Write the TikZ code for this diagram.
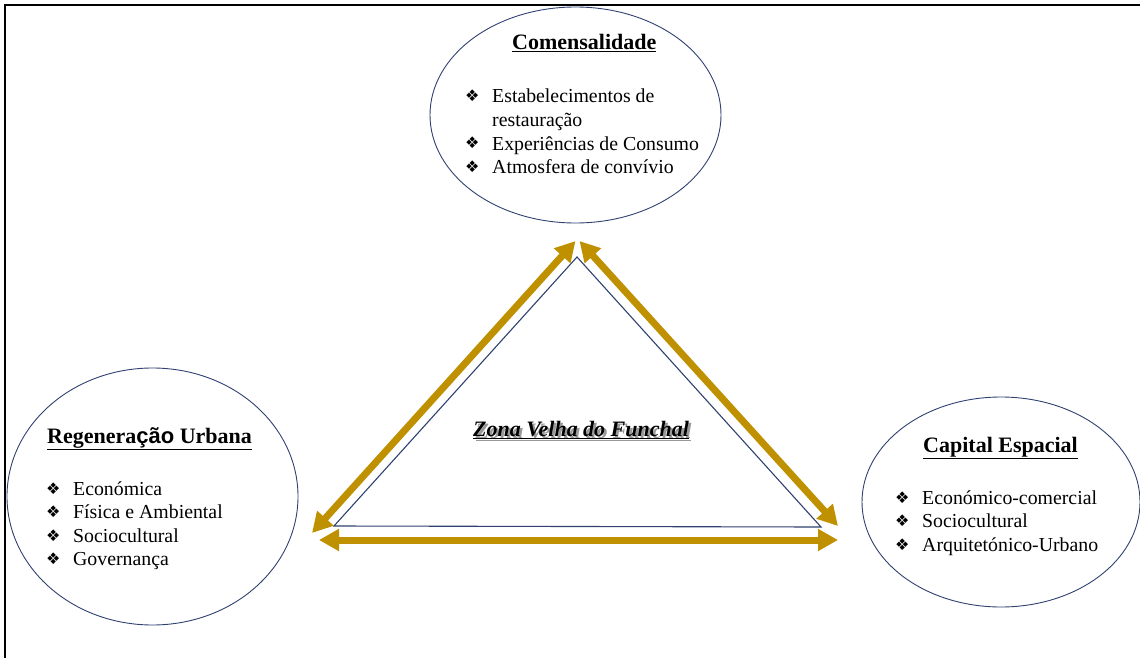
\documentclass[tikz,border=0pt]{standalone}
\usepackage{fontspec}
\setmainfont{LiberationSerif}[Extension=.ttf, UprightFont=*-Regular, BoldFont=*-Bold, ItalicFont=*-Italic, BoldItalicFont=*-BoldItalic]
\newfontfamily\symfont{DejaVu Sans}
\newfontfamily\arialfont{LiberationSans}[Extension=.ttf, UprightFont=*-Regular, BoldFont=*-Bold]
\usetikzlibrary{arrows.meta,shapes.geometric}
\definecolor{gold}{HTML}{BF9000}
\definecolor{navy}{HTML}{2F4170}
\newcommand{\bul}{{\symfont\fontsize{16}{16}\selectfont ❖}}
\newcommand{\shadowtext}[1]{\rlap{\color{black!40}\raisebox{-2.5pt}{\hspace{2.5pt}#1}}#1}
\begin{document}
\begin{tikzpicture}[x=1pt,y=-1pt,
  ell/.style={draw=navy, line width=0.9pt, ellipse, inner sep=0pt},
  ttl/.style={inner sep=0pt, anchor=base west, font=\fontsize{22}{26}\selectfont\bfseries},
  itm/.style={inner sep=0pt, anchor=base west, font=\fontsize{19.8}{24}\selectfont},
  bl/.style={inner sep=0pt, anchor=base west},
  link/.style={draw=gold, line width=7pt, {Triangle[width=21pt,length=20pt]}-{Triangle[width=21pt,length=20pt]}},
  tri/.style={draw=navy, line width=1.1pt}]
\useasboundingbox (0,0) rectangle (1140,658);
\draw[line width=2pt] (5,658) -- (5,5) -- (1140,5);

% ellipses
\node[ell, minimum width=291pt, minimum height=216pt] (top) at (575.5,115) {};
\node[ell, minimum width=291pt, minimum height=257pt] (left) at (152.5,496.5) {};
\node[ell, minimum width=278pt, minimum height=210pt] (right) at (1001,502) {};

% triangle
\coordinate (ta) at (577,257);
\coordinate (tl) at (334,526);
\coordinate (tr) at (821,527);
\draw[tri] (ta) -- (tl) -- (tr) -- cycle;

% gold double arrows
\coordinate (l1) at (312,533);
\coordinate (l2) at (575.5,241);
\coordinate (r1) at (579.5,241);
\coordinate (r2) at (838,526);
\coordinate (b1) at (319,540);
\coordinate (b2) at (838,540);
\draw[link] (l1) -- (l2);
\draw[link] (r1) -- (r2);
\draw[link] (b1) -- (b2);

% top texts
\node[ttl] (ttop) at (512,50) {\underline{Comensalidade}};
\node[bl] (bt1) at (465,102) {\bul};
\node[itm] (it1) at (492,103) {Estabelecimentos de};
\node[itm] (it1b) at (492,127) {restauração};
\node[bl] (bt2) at (465,149) {\bul};
\node[itm] (it2) at (492,150) {Experiências de Consumo};
\node[bl] (bt3) at (465,172) {\bul};
\node[itm] (it3) at (492,173) {Atmosfera de convívio};

% left texts
\node[ttl] (tleft) at (47,443) {\underline{Regenera{\arialfont ção} Urbana}};
\node[bl] (bl1) at (46,494) {\bul};
\node[itm] (il1) at (73,495) {Económica};
\node[bl] (bl2) at (46,517) {\bul};
\node[itm] (il2) at (73,518) {Física e Ambiental};
\node[bl] (bl3) at (46,541) {\bul};
\node[itm] (il3) at (73,542) {Sociocultural};
\node[bl] (bl4) at (46,564) {\bul};
\node[itm] (il4) at (73,565) {Governança};

% right texts
\node[ttl] (tright) at (923,452) {\underline{Capital Espacial}};
\node[bl] (br1) at (895,503) {\bul};
\node[itm] (ir1) at (922,504) {Económico-comercial};
\node[bl] (br2) at (895,526.5) {\bul};
\node[itm] (ir2) at (922,527.5) {Sociocultural};
\node[bl] (br3) at (895,550) {\bul};
\node[itm] (ir3) at (922,551) {Arquitetónico-Urbano};

% centre
\node[ttl] (zona) at (473,436) {\itshape\shadowtext{\underline{Zona Velha do Funchal}}};
\end{tikzpicture}
\end{document}
